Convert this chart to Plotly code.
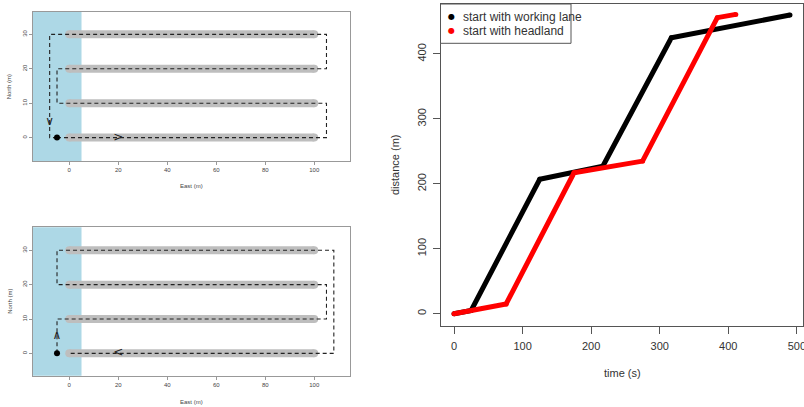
import plotly.graph_objects as go

W, H = 804, 407

# ---------------- data ----------------
lane_y = [0, 10, 20, 30]
lane_x0 = 0
lane_x1 = 100
headland_x = [-14.8, 5]

path1_x = [-5, 105, 105, -5, -5, 105, 105, -8, -8, -5]
path1_y = [0, 0, 10, 10, 20, 20, 30, 30, 0, 0]
path2_x = [-5, -5, 105, 105, -5, -5, 108, 108, 0]
path2_y = [0, 10, 10, 20, 20, 30, 30, 0, 0]
start_pt = (-5, 0)
arrows1 = {"x": [20, -8], "y": [0, 4.6], "s": [">", "∨"]}
arrows2 = {"x": [20, -5], "y": [0, 5], "s": ["<", "∧"]}

map_xticks = [0, 20, 40, 60, 80, 100]
map_yticks = [0, 10, 20, 30]

black_t = [0, 25, 125, 217, 317, 490]
black_d = [0, 5, 207, 227, 425, 460]
red_t = [0, 76, 175, 275, 384, 411]
red_d = [0, 15, 217, 235, 456, 461]

time_ticks = [0, 100, 200, 300, 400, 500]
dist_ticks = [0, 100, 200, 300, 400]

legend_labels = ["start with working lane", "start with headland"]
legend_colors = ["#000000", "#ff0000"]

FONT = "Liberation Sans, Arial, sans-serif"


def px_x(p):
    return p / W


def px_y(p):
    return 1 - p / H


fig = go.Figure()


def add_map(xa, ya, px, py, arrows):
    xs = "x" if xa == 1 else f"x{xa}"
    ys = "y" if ya == 1 else f"y{ya}"
    fig.add_shape(type="rect", xref=xs, yref=f"{ys} domain", x0=headland_x[0], x1=headland_x[1],
                  y0=0, y1=1, fillcolor="#add8e6", line=dict(width=0), layer="below")
    # lanes
    for y in lane_y:
        fig.add_trace(go.Scatter(x=[lane_x0, lane_x1], y=[y, y], mode="lines+markers",
                                 line=dict(color="#bebebe", width=8),
                                 marker=dict(color="#bebebe", size=8),
                                 xaxis=xs, yaxis=ys, showlegend=False, hoverinfo="skip"))
    fig.add_trace(go.Scatter(x=px, y=py, mode="lines",
                             line=dict(color="#222222", width=1.1, dash="4px,3px"),
                             xaxis=xs, yaxis=ys, showlegend=False, hoverinfo="skip"))
    fig.add_trace(go.Scatter(x=arrows["x"], y=arrows["y"], mode="text", text=arrows["s"],
                             textfont=dict(size=12, color="#222222", family="DejaVu Sans"),
                             textposition="middle center",
                             xaxis=xs, yaxis=ys, showlegend=False, hoverinfo="skip"))
    fig.add_trace(go.Scatter(x=[start_pt[0]], y=[start_pt[1]], mode="markers",
                             marker=dict(color="black", size=6),
                             xaxis=xs, yaxis=ys, showlegend=False, hoverinfo="skip"))


add_map(1, 1, path1_x, path1_y, arrows1)
add_map(2, 2, path2_x, path2_y, arrows2)

fig.add_trace(go.Scatter(x=black_t, y=black_d, mode="lines+markers",
                         line=dict(color="#000000", width=5),
                         marker=dict(color="#000000", size=5),
                         xaxis="x3", yaxis="y3", showlegend=False, hoverinfo="skip"))
fig.add_trace(go.Scatter(x=red_t, y=red_d, mode="lines+markers",
                         line=dict(color="#ff0000", width=5),
                         marker=dict(color="#ff0000", size=5),
                         xaxis="x3", yaxis="y3", showlegend=False, hoverinfo="skip"))

map_axis = dict(showgrid=False, zeroline=False, showline=True, mirror=True,
                linecolor="#999999", linewidth=1, ticks="outside", ticklen=3,
                tickcolor="#999999", automargin=False,
                tickfont=dict(size=6, color="#444444", family=FONT))

big_axis = dict(showgrid=False, zeroline=False, showline=True, mirror=True,
                linecolor="#555555", linewidth=1, ticks="outside", ticklen=7,
                tickcolor="#555555", automargin=False, ticklabeloverflow="allow",
                tickfont=dict(size=11, color="#333333", family=FONT), ticklabelstandoff=3)

fig.update_layout(
    width=W, height=H, margin=dict(l=0, r=0, t=0, b=0, autoexpand=False),
    paper_bgcolor="white", plot_bgcolor="white", showlegend=False,
    xaxis=dict(domain=[px_x(33), px_x(350)], range=[-14.8, 114.6], anchor="y",
               tickvals=map_xticks, **map_axis),
    yaxis=dict(domain=[px_y(161), px_y(12)], range=[-6.8, 36.5], anchor="x",
               tickvals=map_yticks, tickangle=-90, **map_axis),
    xaxis2=dict(domain=[px_x(33), px_x(350)], range=[-14.8, 114.6], anchor="y2",
                tickvals=map_xticks, **map_axis),
    yaxis2=dict(domain=[px_y(375.7), px_y(227.3)], range=[-6.5, 36.7], anchor="x2",
                tickvals=map_yticks, tickangle=-90, **map_axis),
    xaxis3=dict(domain=[px_x(441), px_x(803)], range=[-19, 509], anchor="y3",
                tickvals=time_ticks, **big_axis),
    yaxis3=dict(domain=[px_y(326), px_y(4)], range=[-19, 477], anchor="x3",
                tickvals=dist_ticks, tickangle=-90, **big_axis),
)

ann = []


def label(text, x, y, size, angle=0, color="#333333", xanchor="center", family=FONT):
    ann.append(dict(text=text, x=px_x(x), y=px_y(y), xref="paper", yref="paper",
                    showarrow=False, textangle=angle, xanchor=xanchor, yanchor="middle",
                    font=dict(size=size, color=color, family=family)))


label("East (m)", 191.7, 185.7, 6, color="#444444")
label("North (m)", 9.3, 87, 6, angle=-90, color="#444444")
label("East (m)", 191.7, 401.7, 6, color="#444444")
label("North (m)", 9.3, 301.5, 6, angle=-90, color="#444444")
label("time (s)", 622, 372.7, 11)
label("distance (m)", 395, 165, 11, angle=-90)

# legend
fig.add_shape(type="rect", xref="paper", yref="paper", x0=px_x(440.5), x1=px_x(571),
              y0=px_y(43.3), y1=px_y(4), line=dict(color="#555555", width=1),
              fillcolor="white", layer="above")
for i, (lab, col) in enumerate(zip(legend_labels, legend_colors)):
    yy = 17.3 + i * 13.7
    label("●", 451, yy - 1, 8, color=col, family="DejaVu Sans")
    label(lab, 461, yy, 12, color="#333333", xanchor="left")

fig.update_layout(annotations=ann)
fig.write_html("out.html", config={"displayModeBar": False},
               post_script="document.body.style.margin='0';document.body.style.overflow='hidden';")
